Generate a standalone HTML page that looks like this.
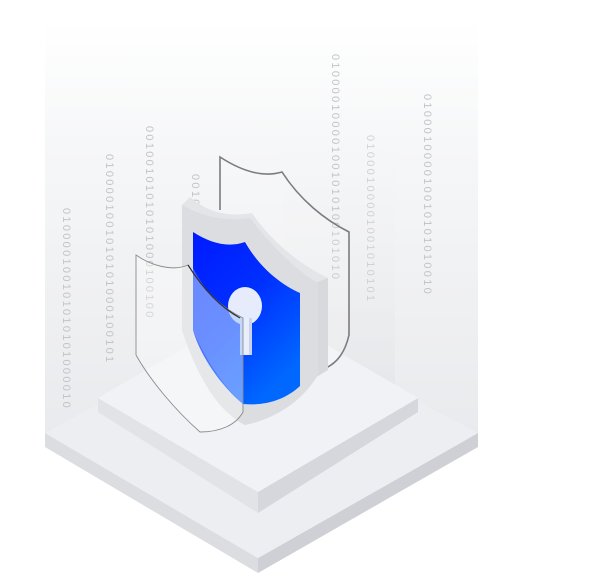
<!DOCTYPE html>
<html><head><meta charset="utf-8"><style>
html,body{margin:0;padding:0;background:#fff;width:600px;height:580px;overflow:hidden}
svg{display:block}
.b{font-family:"Liberation Sans",sans-serif;font-size:11px;fill:#c2c4c9;letter-spacing:2.3px}
</style></head><body>
<svg width="600" height="580" viewBox="0 0 600 580" xmlns="http://www.w3.org/2000/svg">
<defs>
<linearGradient id="bg" x1="0" y1="0" x2="0" y2="1">
<stop offset="0" stop-color="#ffffff"/><stop offset="0.3" stop-color="#f6f7f8"/><stop offset="1" stop-color="#e9eaed"/>
</linearGradient>
<linearGradient id="col" x1="0" y1="0" x2="0" y2="1">
<stop offset="0" stop-color="#f7f8f9" stop-opacity="0"/><stop offset="1" stop-color="#e2e4e7"/>
</linearGradient>
<linearGradient id="blue" x1="0" y1="0" x2="0.6" y2="1">
<stop offset="0" stop-color="#0019ff"/><stop offset="0.5" stop-color="#0030ff"/><stop offset="1" stop-color="#0068ff"/>
</linearGradient>
<linearGradient id="tf" x1="0" y1="0" x2="0" y2="1">
<stop offset="0" stop-color="#bfc1c6"/><stop offset="0.7" stop-color="#cfd1d5"/><stop offset="1" stop-color="#e6e7ea"/>
</linearGradient>
</defs>
<rect x="45" y="20" width="433" height="420" fill="url(#bg)"/>
<rect x="283" y="100" width="112" height="290" fill="url(#col)" opacity="0.6"/>
<!-- binary columns -->
<g class="b" fill="url(#tf)">
<text transform="translate(63,208) rotate(90)">010000100101010101000010</text>
<text transform="translate(106,154) rotate(90)">0100001001010101000100101</text>
<text transform="translate(146,126) rotate(90)">00100101010101000100100</text>
<text transform="translate(192,174) rotate(90)">0010</text>
<text transform="translate(332,54) rotate(90)">010000100001001010100101010</text>
<text transform="translate(367,135) rotate(90)" opacity="0.7">01000100001001010101</text>
<text transform="translate(424,94) rotate(90)">010001000010010101010010</text>
</g>
<!-- outer base -->
<polygon points="45,433 258,558 258,573 45,447" fill="#dcdde1"/>
<polygon points="478,433 258,558 258,573 478,447" fill="#cfd0d5"/>
<polygon points="45,433 258,318 478,433 258,558" fill="#eceef1"/>
<!-- inner step -->
<polygon points="98,398 258,492 258,513 98,412" fill="#e2e3e7"/>
<polygon points="418,398 258,492 258,513 418,412" fill="#d6d7dc"/>
<polygon points="98,398 258,305 418,398 258,492" fill="#f1f2f5"/>
<!-- back glass shield -->
<path d="M220,157 C240,170 262,178 282,172 C300,200 325,220 349,232 L349,335 C345,352 338,362 326,368 L300,380 L220,380 Z" fill="#ffffff" fill-opacity="0.15"/>
<path d="M220,210 L220,157 C240,170 262,178 282,172 C300,200 325,220 349,232 L349,335 C345,352 338,362 326,368" fill="none" stroke="#7a7c80" stroke-width="1.6"/>
<!-- shield frame -->
<path d="M182,205 L190,197 C205,210 225,218 252,213 C270,240 300,265 328,278 L328,370 L318,374 C300,405 270,420 245,425 C215,410 195,370 182,330 Z" fill="#e4e5e8"/>
<path d="M315,283 L328,278 L328,370 L315,378 Z" fill="#d8d9dd"/>
<path d="M182,205 C200,215 222,222 250,218 C270,244 295,270 318,283 L318,375 C300,405 270,420 245,425 C215,410 195,370 182,330 Z" fill="#dcdde0"/>
<!-- blue -->
<path d="M193,232 C210,243 228,248 245,242 C258,265 278,283 300,293 L300,386 C285,400 265,406 243,404 C220,385 200,355 193,330 Z" fill="url(#blue)"/>
<!-- keyhole -->
<ellipse cx="245" cy="306" rx="17" ry="19" fill="#e6ecfb"/>
<rect x="240" y="318" width="12" height="37" fill="#e9eefb"/>
<rect x="249" y="318" width="3" height="37" fill="#c9d3ee"/>
<!-- front glass -->
<path d="M136,255 C150,265 172,272 188,265 C205,292 222,308 243,318 L243,412 C236,425 220,432 200,432 C175,410 150,380 136,355 Z" fill="#ffffff" fill-opacity="0.3"/>
<path d="M193,268 C205,292 222,308 243,318 L243,404 C225,388 205,360 193,330 Z" fill="#8fb6ff" fill-opacity="0.45"/>
<path d="M136,355 L136,255 C150,265 172,272 188,265 C205,292 222,308 243,318 L243,412 C236,425 220,432 200,432 C175,410 150,380 136,355" fill="none" stroke="#8a8c90" stroke-width="0.9"/>
<path d="M188,265 C205,292 222,308 240,318" fill="none" stroke="#333" stroke-width="1.2"/>
</svg>
</body></html>
